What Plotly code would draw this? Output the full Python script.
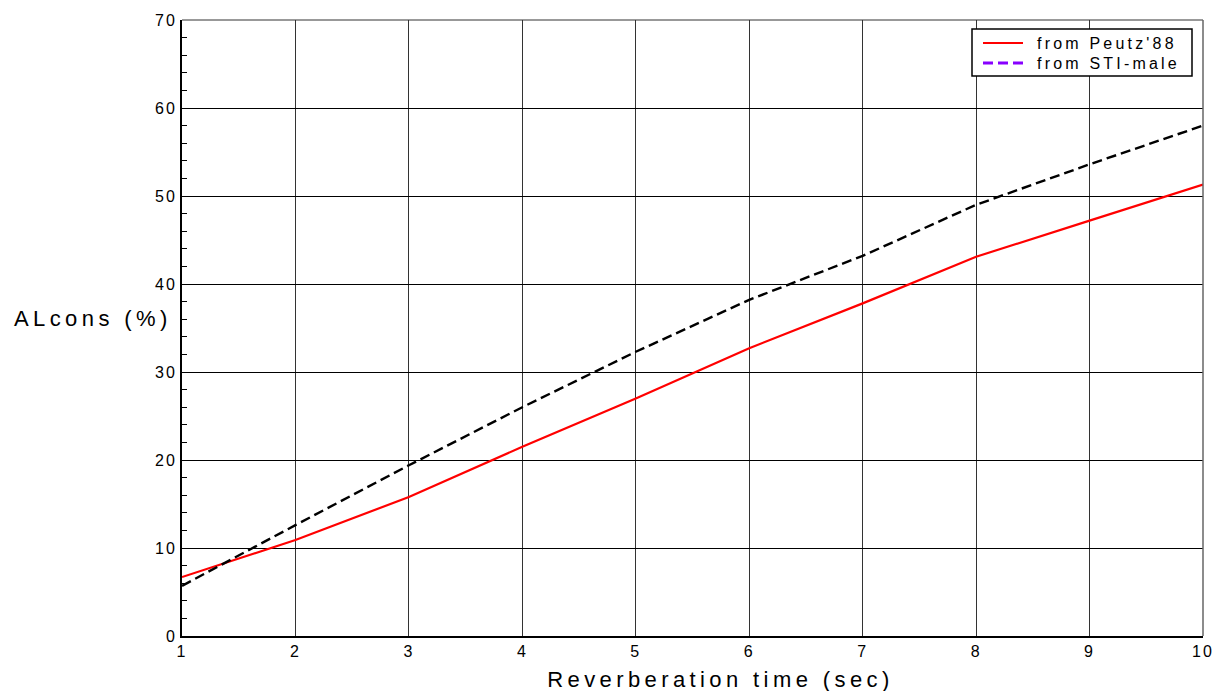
import plotly.graph_objects as go

x_vals = [1, 2, 3, 4, 5, 6, 7, 8, 9, 10]
peutz = [6.7, 10.9, 15.8, 21.5, 27.0, 32.7, 37.8, 43.1, 47.2, 51.3]
sti_male = [5.7, 12.6, 19.4, 26.0, 32.3, 38.2, 43.2, 49.0, 53.6, 58.0]

FONT = "Liberation Sans, Arial, sans-serif"
L, R, T, B = 182, 12, 20, 55
PW, PH = 1215 - L - R, 691 - T - B

def px_x(px):
    return (px - L) / PW

def px_y(py):
    return 1 - (py - T) / PH

fig = go.Figure()
fig.add_trace(go.Scatter(x=x_vals, y=peutz, mode="lines", name="from Peutz'88",
                         line=dict(color="#ff0000", width=2.2)))
fig.add_trace(go.Scatter(x=x_vals, y=sti_male, mode="lines", name="from STI-male",
                         line=dict(color="#000000", width=2.4, dash="10px,5px"), showlegend=False))
fig.add_trace(go.Scatter(x=[None], y=[None], mode="lines", name="from STI-male",
                         line=dict(color="#8800ff", width=3, dash="10px,5px")))

fig.update_layout(
    width=1215, height=691,
    margin=dict(l=L, r=R, t=T, b=B),
    paper_bgcolor="white", plot_bgcolor="white",
    font=dict(family=FONT, color="black", size=16),
    showlegend=True,
    legend=dict(x=px_x(972), y=px_y(29), xanchor="left", yanchor="top",
                borderwidth=0, bgcolor="rgba(0,0,0,0)",
                font=dict(size=16, family=FONT), tracegroupgap=0),
    xaxis=dict(range=[1, 10], dtick=1, tick0=1, showgrid=True, gridcolor="#333333", gridwidth=1,
               showline=True, linecolor="black", linewidth=2, ticks="", zeroline=False,
               tickfont=dict(size=16), automargin=False),
    yaxis=dict(range=[0, 70], dtick=10, showgrid=True, gridcolor="black", gridwidth=1,
               showline=True, linecolor="black", linewidth=2, ticks="inside", ticklen=6,
               tickcolor="black", zeroline=False, tickfont=dict(size=16), automargin=False,
               minor=dict(dtick=2, ticks="inside", ticklen=5, tickcolor="black", showgrid=False)),
)
# legend frame
fig.add_shape(type="rect", xref="paper", yref="paper",
              x0=px_x(972), x1=px_x(1192), y0=px_y(76), y1=px_y(29),
              line=dict(color="black", width=1.5), fillcolor="white", layer="above")
# top and right frame
fig.add_shape(type="line", xref="paper", yref="paper", x0=0, x1=1, y0=1, y1=1,
              line=dict(color="#333333", width=1))
fig.add_shape(type="line", xref="paper", yref="paper", x0=1, x1=1, y0=0, y1=1,
              line=dict(color="#666666", width=1.5))

fig.add_annotation(text="ALcons (%)", xref="paper", yref="paper", x=px_x(93), y=px_y(318),
                   xanchor="center", yanchor="middle", showarrow=False, font=dict(size=22))
fig.add_annotation(text="Reverberation time (sec)", xref="paper", yref="paper",
                   x=px_x(720), y=px_y(679), xanchor="center", yanchor="middle",
                   showarrow=False, font=dict(size=22))

post = """
document.body.style.margin = '0';
document.body.style.overflow = 'hidden';
var st = document.createElement('style');
st.textContent = '.annotation-text{letter-spacing:4.4px;}' +
  '.legendtext{letter-spacing:3.2px;}' +
  '.xtick text, text.xtick, .ytick text, text.ytick{letter-spacing:2px;}';
document.head.appendChild(st);
var gd = document.querySelector('.js-plotly-plot');
var leg = gd.querySelector('.legend');
if (leg) {
  leg.removeAttribute('clip-path');
  leg.setAttribute('transform', 'translate(972,29)');
  var sb = leg.querySelector('.scrollbox');
  if (sb) { sb.removeAttribute('clip-path'); sb.setAttribute('transform', 'translate(0,0)'); }
  leg.querySelectorAll('.traces').forEach(function(t, i) {
    t.setAttribute('transform', 'translate(6,' + (14 + 20 * i) + ')');
    t.querySelectorAll('.legendlines path').forEach(function(p) { p.setAttribute('d', 'M5,0h40'); });
    t.querySelectorAll('.legendtext').forEach(function(x) { x.setAttribute('x', 59); });
  });
}
"""
fig.write_html("out.html", post_script=post, config={"displayModeBar": False})
